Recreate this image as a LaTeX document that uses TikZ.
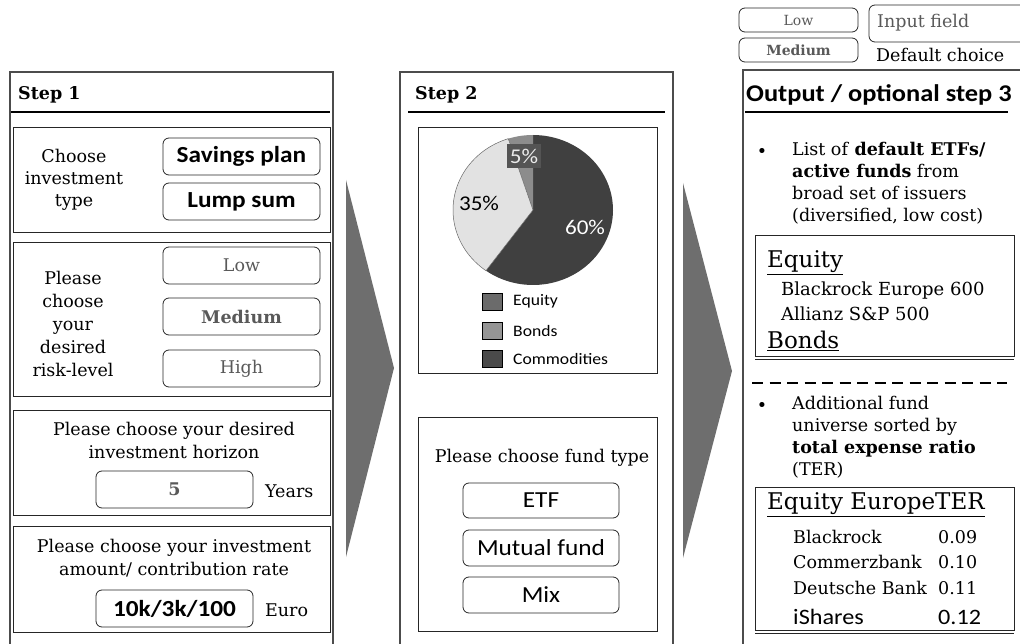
\documentclass[tikz,border=0pt]{standalone}
\usepackage{fontspec}
\setmainfont{DejaVu Serif}
\newfontfamily\calib[FakeStretch=1.1]{Carlito}
\newcommand\fsz[2]{\fontsize{#1}{#2}\selectfont}
\definecolor{arrowgray}{HTML}{6E6E6E}
\definecolor{piedark}{HTML}{404040}
\definecolor{piemid}{HTML}{8C8C8C}
\definecolor{pielight}{HTML}{E2E2E2}
\definecolor{legeq}{HTML}{6B6B6B}
\definecolor{legbo}{HTML}{959595}
\definecolor{legco}{HTML}{4A4A4A}
\definecolor{txtgray}{HTML}{595959}
\begin{document}
\begin{tikzpicture}[x=1pt,y=-1pt,
  outerbox/.style={draw=black!70, line width=1.3pt, anchor=north west, inner sep=0pt, outer sep=0pt},
  subbox/.style={draw=black!85, line width=0.9pt, anchor=north west, inner sep=0pt, outer sep=0pt},
  btn/.style={draw=black!85, rounded corners=6pt, line width=0.8pt, anchor=north west, inner sep=0pt, outer sep=0pt},
  serif/.style={font=\fsz{17.5}{22}, align=center, inner sep=0pt},
  sansbold/.style={font=\calib\bfseries\fsz{23}{26}},
  sans/.style={font=\calib\fsz{23}{26}},
  plain/.style={anchor=west, font=\fsz{17.5}{20}, inner sep=0pt},
  titleline/.style={line width=2pt},
  bigarrow/.style={fill=arrowgray},
  legsq/.style={draw=black, line width=0.6pt, anchor=north west, inner sep=0pt, outer sep=0pt, minimum width=20pt, minimum height=17pt},
]
\useasboundingbox (0,0) rectangle (1020,644);

% ---------- Step 1 ----------
\node[outerbox, minimum width=323pt, minimum height=600pt] (s1) at (10,72) {};
\node[anchor=west, font=\bfseries\fsz{17.5}{20}, inner sep=0pt] (s1t) at (18,95) {Step 1};
\coordinate (s1la) at (11,112); \coordinate (s1lb) at (330,112);
\draw[titleline] (s1la) -- (s1lb);

\node[subbox, minimum width=317pt, minimum height=105pt] (b1) at (13,127) {};
\node[serif] (b1t) at (74,180) {Choose\\investment\\type};
\node[btn, minimum width=157pt, minimum height=37pt, sansbold] (sav) at (163,138) {Savings plan};
\node[btn, minimum width=157pt, minimum height=37pt, sansbold] (lump) at (163,183) {Lump sum};

\node[subbox, minimum width=317pt, minimum height=154pt] (b2) at (13,242) {};
\node[serif, font=\fsz{17.5}{23}] (b2t) at (73,324) {Please\\choose\\your\\desired\\risk-level};
\node[btn, minimum width=157pt, minimum height=37pt, font=\fsz{17.5}{20}, text=txtgray] (low) at (163,247) {Low};
\node[btn, minimum width=157pt, minimum height=37pt, font=\bfseries\fsz{17.5}{20}, text=txtgray] (med) at (163,298) {Medium};
\node[btn, minimum width=157pt, minimum height=37pt, font=\fsz{17.5}{20}, text=txtgray] (high) at (163,350) {High};

\node[subbox, minimum width=317pt, minimum height=105pt] (b3) at (13,410) {};
\node[serif, font=\fsz{17.5}{23}] (b3t) at (174,440) {Please choose your desired\\investment horizon};
\node[btn, minimum width=157pt, minimum height=37pt, font=\bfseries\fsz{17.5}{20}, text=txtgray] (hor) at (96,471) {5};
\node[plain] (yrs) at (265,491) {Years};

\node[subbox, minimum width=317pt, minimum height=106pt] (b4) at (13,526) {};
\node[serif, font=\fsz{17.5}{23}] (b4t) at (174,558) {Please choose your investment\\amount/ contribution rate};
\node[btn, minimum width=157pt, minimum height=37pt, sansbold] (amt) at (96,590) {10k/3k/100};
\node[plain] (eur) at (265,610) {Euro};

% ---------- Arrow 1 ----------
\coordinate (a1t) at (346,180); \coordinate (a1p) at (394,368); \coordinate (a1b) at (346,557);
\fill[bigarrow] (a1t) -- (a1p) -- (a1b) -- cycle;

% ---------- Step 2 ----------
\node[outerbox, minimum width=273pt, minimum height=600pt] (s2) at (400,72) {};
\node[anchor=west, font=\bfseries\fsz{17.5}{20}, inner sep=0pt] (s2t) at (415,95) {Step 2};
\coordinate (s2la) at (408,112); \coordinate (s2lb) at (665,112);
\draw[titleline] (s2la) -- (s2lb);

\node[subbox, minimum width=239pt, minimum height=246pt] (pbox) at (418,127) {};
% pie
\fill[piedark] (533,210) -- plot[domain=90:-126, samples=80] ({533+80*cos(\x)}, {210-75*sin(\x)}) -- cycle;
\fill[piemid] (533,210) -- plot[domain=90:108, samples=10] ({533+80*cos(\x)}, {210-75*sin(\x)}) -- cycle;
\fill[pielight] (533,210) -- plot[domain=108:234, samples=50] ({533+80*cos(\x)}, {210-75*sin(\x)}) -- cycle;
\draw[black!60, line width=0.5pt] (533,210) -- ({533+80*cos(108)}, {210-75*sin(108)});
\draw[black!60, line width=0.5pt] (533,210) -- ({533+80*cos(234)}, {210-75*sin(234)});
\draw[black!60, line width=0.5pt] plot[domain=108:234, samples=50] ({533+80*cos(\x)}, {210-75*sin(\x)});
\node[fill=black!67, minimum width=34pt, minimum height=24pt, inner sep=0pt, text=black!8, font=\calib\fsz{21}{24}] (p5) at (524,156) {5\%};
\node[font=\calib\fsz{21}{24}, inner sep=0pt] (p35) at (479,203) {35\%};
\node[font=\calib\fsz{21}{24}, inner sep=0pt, text=white] (p60) at (585,227) {60\%};
\node[legsq, fill=legeq] (lq1) at (482,293) {};
\node[legsq, fill=legbo] (lq2) at (482,322) {};
\node[legsq, fill=legco] (lq3) at (482,350) {};
\node[anchor=west, font=\calib\fsz{16}{18}, inner sep=0pt] (lt1) at (513,301) {Equity};
\node[anchor=west, font=\calib\fsz{16}{18}, inner sep=0pt] (lt2) at (513,331) {Bonds};
\node[anchor=west, font=\calib\fsz{16}{18}, inner sep=0pt] (lt3) at (513,359) {Commodities};

\node[subbox, minimum width=239pt, minimum height=214pt] (fbox) at (418,417) {};
\node[serif] (ft) at (542,458) {Please choose fund type};
\node[btn, minimum width=156pt, minimum height=35pt, sans] (etf) at (463,483) {ETF};
\node[btn, minimum width=156pt, minimum height=36pt, sans] (mut) at (463,530) {Mutual fund};
\node[btn, minimum width=156pt, minimum height=36pt, sans] (mix) at (463,577) {Mix};

% ---------- Arrow 2 ----------
\coordinate (a2t) at (683,183); \coordinate (a2p) at (732,371); \coordinate (a2b) at (683,558);
\fill[bigarrow] (a2t) -- (a2p) -- (a2b) -- cycle;

% ---------- Legend ----------
\node[btn, minimum width=119pt, minimum height=24pt, font=\fsz{14}{16}, text=txtgray] (klow) at (739,8) {Low};
\node[btn, minimum width=119pt, minimum height=24pt, font=\bfseries\fsz{14}{16}, text=txtgray] (kmed) at (739,38) {Medium};
\node[btn, minimum width=170pt, minimum height=37pt] (kin) at (869,5) {};
\node[plain, text=txtgray] (kint) at (877,23) {Input field};
\node[plain] (kdef) at (876,55) {Default choice};

% ---------- Step 3 ----------
\node[outerbox, minimum width=300pt, minimum height=600pt] (s3) at (743,70) {};
\node[anchor=west, font=\calib\bfseries\fsz{24}{26}, inner sep=0pt] (s3t) at (746,95) {Output / optional step 3};
\coordinate (s3la) at (745,112); \coordinate (s3lb) at (1008,112);
\draw[titleline] (s3la) -- (s3lb);

\node[anchor=center, font=\fsz{17.5}{22}, inner sep=0pt] (bul1) at (762,153) {•};
\node[anchor=north west, font=\fsz{17.5}{22}, align=left, inner sep=0pt] (bt1) at (792,142)
  {List of \textbf{default ETFs/}\\\textbf{active funds} from\\broad set of issuers\\(diversified, low cost)};

\node[subbox, minimum width=259pt, minimum height=121pt] (eqbox) at (755,235) {};
\coordinate (eqda) at (755,359.5); \coordinate (eqdb) at (1014,359.5);
\draw[black!85, line width=0.9pt] (eqda) -- (eqdb);
\node[anchor=west, font=\fsz{23}{25}, inner sep=0pt] (eqh) at (767,263) {\underline{Equity}};
\node[plain, font=\fsz{18}{20}] (eq1) at (781,291) {Blackrock Europe 600};
\node[plain, font=\fsz{18}{20}] (eq2) at (781,314) {Allianz S\&P 500};
\node[anchor=west, font=\fsz{23}{25}, inner sep=0pt] (boh) at (767,341) {\underline{Bonds}};

\coordinate (dla) at (752,383); \coordinate (dlb) at (1007,383);
\draw[line width=2pt, dash pattern=on 11pt off 6.5pt] (dla) -- (dlb);

\node[anchor=center, font=\fsz{17.5}{22}, inner sep=0pt] (bul2) at (762,407) {•};
\node[anchor=north west, font=\fsz{17.5}{22}, align=left, inner sep=0pt] (bt2) at (792,396)
  {Additional fund\\universe sorted by\\\textbf{total expense ratio}\\(TER)};

\node[subbox, minimum width=259pt, minimum height=143pt] (terbox) at (755,487) {};
\coordinate (terda) at (755,633.5); \coordinate (terdb) at (1014,633.5);
\draw[black!85, line width=0.9pt] (terda) -- (terdb);
\node[anchor=west, font=\fsz{23}{25}, inner sep=0pt] (terh) at (767,505) {\underline{Equity EuropeTER}};
\node[plain] (r1) at (793,537) {Blackrock};
\node[plain] (v1) at (938,537) {0.09};
\node[plain] (r2) at (793,562) {Commerzbank};
\node[plain] (v2) at (938,562) {0.10};
\node[plain] (r3) at (793,588) {Deutsche Bank};
\node[plain] (v3) at (938,588) {0.11};
\node[anchor=west, font=\calib\fsz{22}{24}, inner sep=0pt] (r4) at (793,617) {iShares};
\node[anchor=west, font=\calib\fsz{22}{24}, inner sep=0pt] (v4) at (938,617) {0.12};
\end{tikzpicture}
\end{document}
